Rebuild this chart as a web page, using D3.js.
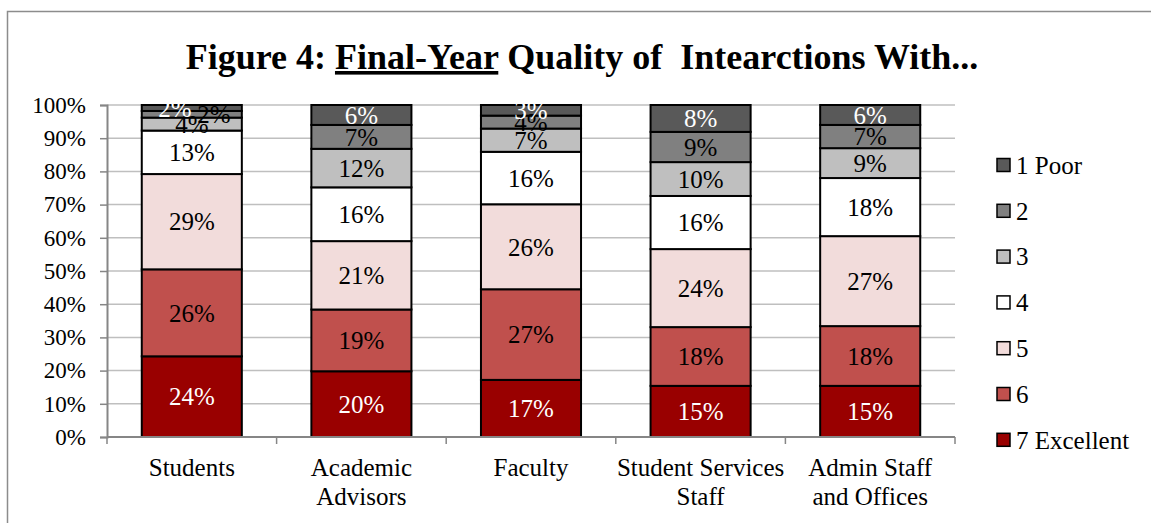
<!DOCTYPE html>
<html>
<head>
<meta charset="utf-8">
<script src="https://cdn.jsdelivr.net/npm/d3@7"></script>
<style>
  body { margin: 0; background: #fff; }
  svg text { font-family: "Liberation Serif", "Times New Roman", serif !important; }
</style>
</head>
<body>
<svg id="chart" width="1151" height="523"></svg>
<script>
// categories (line breaks mark the wrapped axis labels)
const categories = ["Students", "Academic\nAdvisors", "Faculty", "Student Services\nStaff", "Admin Staff\nand Offices"];

// share of responses per rating, bottom of the stack first
const ratings = ["7 Excellent", "6", "5", "4", "3", "2", "1 Poor"];
const excellent7 = [24.3, 19.8, 17.2, 15.4, 15.4];
const rating6 = [26.2, 18.6, 27.3, 17.7, 18.0];
const rating5 = [28.7, 20.6, 25.6, 23.5, 27.1];
const rating4 = [13.1, 16.2, 15.8, 16.0, 17.5];
const rating3 = [3.9, 11.6, 7.0, 10.2, 9.0];
const rating2 = [2.0, 7.2, 3.9, 9.1, 7.0];
const poor1 = [1.8, 6.0, 3.2, 8.1, 6.0];

const yTicks = [0, 0.1, 0.2, 0.3, 0.4, 0.5, 0.6, 0.7, 0.8, 0.9, 1];

const seriesValues = [excellent7, rating6, rating5, rating4, rating3, rating2, poor1];
const colors = ["#990000", "#c0504d", "#f2dcdb", "#ffffff", "#bfbfbf", "#808080", "#595959"];
const labelColors = ["#fff", "#000", "#000", "#000", "#000", "#000", "#fff"];

// Excel pushed the crowded Students labels sideways
const labelNudge = {"Students|1 Poor": -17, "Students|2": 22};

const serif = "'Liberation Serif', 'Times New Roman', serif";

const svg = d3.select("#chart");
const margin = {top: 105, right: 196, bottom: 86, left: 107};
const width = +svg.attr("width") - margin.left - margin.right;
const height = +svg.attr("height") - margin.top - margin.bottom;

// outer frame
svg.append("rect")
  .attr("x", 7.5).attr("y", 11.5)
  .attr("width", 1200).attr("height", 600)
  .attr("fill", "none")
  .attr("stroke", "#8c8c8c")
  .attr("stroke-width", 1.5);

// title
const title = svg.append("text")
  .attr("x", 582)
  .attr("y", 69)
  .attr("text-anchor", "middle")
  .attr("font-weight", "bold")
  .attr("font-size", 36)
  .style("white-space", "pre");
title.append("tspan").text("Figure 4: ");
title.append("tspan").style("text-decoration", "underline").text("Final-Year");
title.append("tspan").text(" Quality of  Intearctions With...");

const table = categories.map((c, i) => {
  const row = {category: c};
  ratings.forEach((r, j) => { row[r] = seriesValues[j][i]; });
  return row;
});

const stacked = d3.stack().keys(ratings).offset(d3.stackOffsetExpand)(table);

const x = d3.scaleBand().domain(categories).range([0, width]).padding(0);
const y = d3.scaleLinear().domain([0, 1]).range([height, 0]);
const barWidth = x.bandwidth() * 0.59;

const g = svg.append("g")
  .attr("transform", "translate(" + margin.left + "," + margin.top + ")");

// gridlines
g.append("g")
  .selectAll("line")
  .data(yTicks.slice(1))
  .enter().append("line")
    .attr("x1", 0).attr("x2", width)
    .attr("y1", d => y(d)).attr("y2", d => y(d))
    .attr("stroke", "#bfbfbf")
    .attr("stroke-width", 1.5);

// y axis
const yAxis = g.append("g")
  .call(d3.axisLeft(y).tickValues(yTicks).tickFormat(d3.format(".0%")).tickSize(7).tickPadding(14));
yAxis.attr("font-family", serif);
yAxis.select(".domain").attr("stroke", "#868686").attr("stroke-width", 2);
yAxis.selectAll(".tick line").attr("stroke", "#868686").attr("stroke-width", 1.5);
yAxis.selectAll(".tick text")
  .attr("font-size", 23)
  .attr("fill", "#000");

// bars
const layers = g.selectAll(".layer")
  .data(stacked)
  .enter().append("g")
    .attr("class", "layer")
    .attr("fill", (d, i) => colors[i]);

layers.selectAll("rect")
  .data(d => d)
  .enter().append("rect")
    .attr("x", d => x(d.data.category) + (x.bandwidth() - barWidth) / 2)
    .attr("y", d => y(d[1]))
    .attr("width", barWidth)
    .attr("height", d => y(d[0]) - y(d[1]))
    .attr("stroke", "#000")
    .attr("stroke-width", 2);

// x axis
const xAxis = g.append("g")
  .attr("transform", "translate(0," + height + ")");
xAxis.append("line")
  .attr("x1", 0).attr("x2", width)
  .attr("stroke", "#868686").attr("stroke-width", 2);
xAxis.selectAll(".xtick")
  .data(categories.map(c => x(c)).concat([width]))
  .enter().append("line")
    .attr("x1", d => d).attr("x2", d => d)
    .attr("y1", 0).attr("y2", 7)
    .attr("stroke", "#868686").attr("stroke-width", 1.5);

const xLabels = xAxis.selectAll(".xlabel")
  .data(categories)
  .enter().append("text")
    .attr("text-anchor", "middle")
    .attr("font-size", 25)
    .attr("fill", "#000")
    .attr("transform", d => "translate(" + (x(d) + x.bandwidth() / 2) + ",39)");
xLabels.selectAll("tspan")
  .data(d => d.split("\n"))
  .enter().append("tspan")
    .attr("x", 0)
    .attr("dy", (d, i) => i === 0 ? 0 : 29)
    .text(d => d);

// value labels
stacked.forEach((layer, i) => {
  g.append("g").selectAll("text")
    .data(layer)
    .enter().append("text")
      .attr("x", d => x(d.data.category) + x.bandwidth() / 2 + (labelNudge[d.data.category + "|" + layer.key] || 0))
      .attr("y", d => y((d[0] + d[1]) / 2))
      .attr("dy", "0.35em")
      .attr("text-anchor", "middle")
      .attr("font-size", 25)
      .attr("fill", labelColors[i])
      .text(d => Math.round(d.data[layer.key]) + "%");
});

// legend, 1 Poor at the top
const legendItems = ratings.map((r, i) => ({name: r, color: colors[i]})).reverse();
const legend = svg.append("g")
  .attr("transform", "translate(997,165)");
const item = legend.selectAll(".item")
  .data(legendItems)
  .enter().append("g")
    .attr("transform", (d, i) => "translate(0," + (i * 45.8) + ")");
item.append("rect")
  .attr("x", 0).attr("y", -6.5)
  .attr("width", 13).attr("height", 13)
  .attr("fill", d => d.color)
  .attr("stroke", "#000")
  .attr("stroke-width", 1.5);
item.append("text")
  .attr("x", 19)
  .attr("dy", "0.35em")
  .attr("font-size", 25)
  .attr("fill", "#000")
  .text(d => d.name);
</script>
</body>
</html>
